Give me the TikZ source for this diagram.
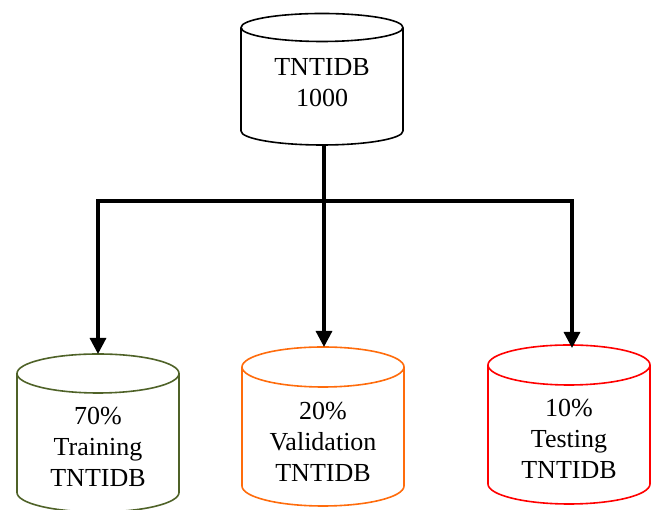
\documentclass[tikz,border=0pt]{standalone}
\usepackage{fontspec}
\setmainfont{Liberation Serif}
\usetikzlibrary{arrows.meta}

\definecolor{dbolive}{RGB}{79,98,40}
\definecolor{dborange}{RGB}{255,108,12}
\definecolor{dbred}{RGB}{255,0,0}

\tikzset{
  dblabel/.style={align=center, inner sep=0pt, font=\fontsize{26}{31}\selectfont},
  dboutline/.style={line width=1.6pt, line join=round},
  conn/.style={line width=3.2pt},
  connarrow/.style={conn, -{Triangle[length=16pt,width=16pt]}},
}

% Database cylinder drawn around a named label node.
% #1 node name, #2 colour, #3 offset of the top ellipse centre above the label,
% #4 offset of the lowest point below the label, #5 ellipse y radius
\newcommand\dbcylinder[5]{%
  \draw[dboutline, draw=#2]
    ([shift={(-81pt,#3pt)}]#1.center)
    -- ([shift={(-81pt,-#4pt+#5pt)}]#1.center)
    arc[start angle=180, end angle=360, x radius=81pt, y radius=#5pt]
    -- ([shift={(81pt,#3pt)}]#1.center);
  \draw[dboutline, draw=#2] ([yshift=#3pt]#1.center)
    ellipse[x radius=81pt, y radius=#5pt];
  \coordinate (#1-top) at ([yshift=#3pt+#5pt]#1.center);
  \coordinate (#1-bot) at ([yshift=-#4pt]#1.center);
}

\begin{document}
\begin{tikzpicture}[x=1pt, y=1pt]
  \useasboundingbox (0,0) rectangle (656,510);

  % labels
  \node[dblabel] (src)   at (322,427.5) {TNTIDB\\1000};
  \node[dblabel] (train) at (98,63)     {70\%\\Training\\TNTIDB};
  \node[dblabel] (valid) at (323,68.5)  {20\%\\Validation\\TNTIDB};
  \node[dblabel] (test)  at (569,71)    {10\%\\Testing\\TNTIDB};

  % cylinders
  \dbcylinder{src}{black}{55}{62.5}{14}
  \dbcylinder{train}{dbolive}{73.5}{65}{19.5}
  \dbcylinder{valid}{dborange}{74.5}{64.5}{20}
  \dbcylinder{test}{dbred}{74}{65}{20}

  % split connectors
  \coordinate (hub) at (324,309);
  \draw[conn] (hub |- src-bot) -- (hub);
  \draw[connarrow] (hub) -| (train-top);
  \draw[connarrow] (hub) -- (hub |- valid-top);
  \draw[connarrow] (hub) -| ([shift={(3pt,-3pt)}]test-top);
\end{tikzpicture}
\end{document}
